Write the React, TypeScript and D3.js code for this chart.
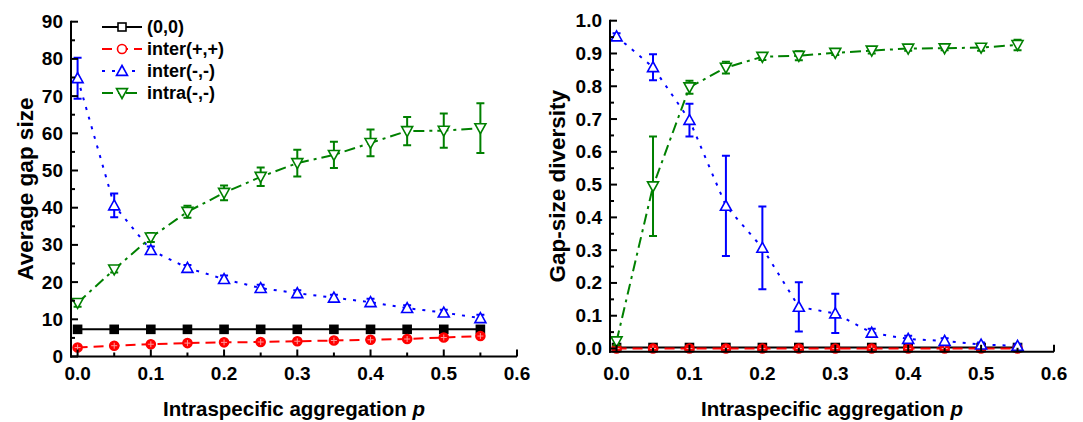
import { scaleLinear, line, range } from "d3";

const W = 1083;
const H = 422;

const pValues = [0, 0.05, 0.1, 0.15, 0.2, 0.25, 0.3, 0.35, 0.4, 0.45, 0.5, 0.55];
const seriesNames = ["(0,0)", "inter(+,+)", "inter(-,-)", "intra(-,-)"];

// left panel: average gap size
const gapNone = [7.3, 7.3, 7.3, 7.3, 7.3, 7.3, 7.3, 7.3, 7.3, 7.3, 7.3, 7.3];
const gapNoneErr = [0.1, 0.1, 0.1, 0.1, 0.1, 0.1, 0.1, 0.1, 0.1, 0.1, 0.1, 0.1];
const gapInterPos = [2.4, 2.9, 3.3, 3.6, 3.8, 3.9, 4.1, 4.3, 4.5, 4.7, 5.1, 5.5];
const gapInterPosErr = [0.3, 0.3, 0.3, 0.3, 0.3, 0.3, 0.3, 0.3, 0.3, 0.3, 0.3, 0.3];
const gapInterNeg = [74.8, 40.6, 28.6, 23.8, 20.8, 18.4, 17.0, 15.8, 14.6, 13.0, 11.8, 10.3];
const gapInterNegErr = [5.5, 3.2, 1.0, 0.8, 1.0, 0.9, 0.8, 0.8, 0.9, 0.8, 0.8, 0.9];
const gapIntraNeg = [14.4, 23.4, 32.0, 38.9, 44.0, 48.3, 52.0, 54.2, 57.4, 60.6, 60.7, 61.4];
const gapIntraNegErr = [1.0, 0.8, 1.2, 1.6, 2.0, 2.5, 3.6, 3.5, 3.6, 3.8, 4.6, 6.7];

// right panel: gap-size diversity
const divNone = [0.003, 0.003, 0.003, 0.003, 0.003, 0.003, 0.003, 0.003, 0.003, 0.003, 0.003, 0.003];
const divNoneErr = [0.002, 0.002, 0.002, 0.002, 0.002, 0.002, 0.002, 0.002, 0.002, 0.002, 0.002, 0.002];
const divInterPos = [0.0, 0.0, 0.0, 0.0, 0.0, 0.0, 0.0, 0.0, 0.0, 0.0, 0.0, 0.0];
const divInterPosErr = [0.002, 0.002, 0.002, 0.002, 0.002, 0.002, 0.002, 0.002, 0.002, 0.002, 0.002, 0.002];
const divInterNeg = [0.952, 0.858, 0.697, 0.435, 0.307, 0.127, 0.107, 0.048, 0.029, 0.023, 0.012, 0.008];
const divInterNegErr = [0.01, 0.04, 0.05, 0.153, 0.126, 0.075, 0.06, 0.012, 0.01, 0.008, 0.006, 0.005];
const divIntraNeg = [0.022, 0.495, 0.797, 0.857, 0.89, 0.893, 0.902, 0.909, 0.915, 0.916, 0.918, 0.926];
const divIntraNegErr = [0.012, 0.152, 0.02, 0.018, 0.01, 0.014, 0.007, 0.009, 0.007, 0.006, 0.01, 0.016];

const leftYTicks = [0, 10, 20, 30, 40, 50, 60, 70, 80, 90];
const rightYTicks = [0, 0.1, 0.2, 0.3, 0.4, 0.5, 0.6, 0.7, 0.8, 0.9, 1.0];
const xTicks = [0, 0.1, 0.2, 0.3, 0.4, 0.5, 0.6];

const COLORS = ["#000000", "#ff0000", "#0000ff", "#008000"];
const DASHES = ["none", "10,6", "3,7", "11,5,3,5"];
const SHAPES = ["square", "circle", "up", "down"];
const FONT = "'Liberation Sans', Arial, sans-serif";

function Marker({ shape, x, y, color, filled }) {
  const fill = filled ? color : "#fff";
  if (shape === "square") {
    return <rect x={x - 4} y={y - 4} width={8} height={8} fill={fill} stroke={color} strokeWidth={1.6} />;
  }
  if (shape === "circle") {
    return (
      <g>
        <circle cx={x} cy={y} r={4.5} fill={fill} stroke={color} strokeWidth={1.6} />
        {filled && (
          <path d={`M${x - 3},${y}H${x + 3}M${x},${y - 3}V${y + 3}`} stroke="#ff9a9a" strokeWidth={1} />
        )}
      </g>
    );
  }
  const s = 5.5;
  const d =
    shape === "up"
      ? `M${x},${y - s}L${x + s},${y + s * 0.8}L${x - s},${y + s * 0.8}Z`
      : `M${x},${y + s}L${x + s},${y - s * 0.8}L${x - s},${y - s * 0.8}Z`;
  return <path d={d} fill={fill} stroke={color} strokeWidth={1.6} strokeLinejoin="miter" />;
}

function Panel({ x0, x1, yTop, yZero, yMin, yMax, yTicks, yMinorStep, fmtY, series, errors, yLabel, yLabelX, filled }) {
  const xScale = scaleLinear().domain([-0.009, 0.6]).range([x0, x1]);
  const yScale = scaleLinear().domain([0, yMax]).range([yZero, yTop]);
  const axisY = yScale(yMin);
  const axisX = xScale(-0.009);
  const linePath = line<number>()
    .x((d, i) => xScale(pValues[i]))
    .y((d) => yScale(d));

  const minorY = range(0, yMax + 1e-9, yMinorStep).filter((v) => !yTicks.some((t) => Math.abs(t - v) < 1e-9));
  const minorX = range(0.05, 0.6, 0.1);

  return (
    <g fontFamily={FONT} fontWeight="bold">
      {series.map((vals, s) => (
        <path
          key={"l" + s}
          d={linePath(vals) || ""}
          fill="none"
          stroke={COLORS[s]}
          strokeWidth={2}
          strokeDasharray={DASHES[s]}
        />
      ))}
      {series.map((vals, s) => (
        <g key={"m" + s}>
          {vals.map((v, i) => {
            const cx = xScale(pValues[i]);
            const e = errors[s][i];
            const ya = yScale(v + e);
            const yb = yScale(v - e);
            return (
              <g key={i}>
                <path
                  d={`M${cx},${ya}V${yb}M${cx - 4},${ya}H${cx + 4}M${cx - 4},${yb}H${cx + 4}`}
                  stroke={COLORS[s]}
                  strokeWidth={2}
                  fill="none"
                />
                <Marker shape={SHAPES[s]} x={cx} y={yScale(v)} color={COLORS[s]} filled={filled[s]} />
              </g>
            );
          })}
        </g>
      ))}
      {/* axes */}
      <line x1={axisX} x2={axisX} y1={yTop - 1} y2={axisY + 1} stroke="#000" strokeWidth={2} />
      <line x1={axisX - 1} x2={x1} y1={axisY} y2={axisY} stroke="#000" strokeWidth={2} />
      {yTicks.map((t) => (
        <g key={"yt" + t}>
          <line x1={axisX} x2={axisX + 7} y1={yScale(t)} y2={yScale(t)} stroke="#000" strokeWidth={2} />
          <text x={axisX - 8} y={yScale(t)} textAnchor="end" dominantBaseline="central" fontSize={19}>
            {fmtY(t)}
          </text>
        </g>
      ))}
      {minorY.map((t) => (
        <line key={"ym" + t} x1={axisX} x2={axisX + 4} y1={yScale(t)} y2={yScale(t)} stroke="#000" strokeWidth={2} />
      ))}
      {xTicks.map((t) => (
        <g key={"xt" + t}>
          <line x1={xScale(t)} x2={xScale(t)} y1={axisY} y2={axisY - 7} stroke="#000" strokeWidth={2} />
          <text x={xScale(t)} y={380} textAnchor="middle" fontSize={19}>
            {t.toFixed(1)}
          </text>
        </g>
      ))}
      {minorX.map((t) => (
        <line key={"xm" + t} x1={xScale(t)} x2={xScale(t)} y1={axisY} y2={axisY - 4} stroke="#000" strokeWidth={2} />
      ))}
      <text x={(axisX + x1) / 2} y={416} textAnchor="middle" fontSize={20.5}>
        Intraspecific aggregation <tspan fontStyle="italic">p</tspan>
      </text>
      <text
        transform={`translate(${yLabelX},${(yTop + axisY) / 2}) rotate(-90)`}
        textAnchor="middle"
        dominantBaseline="central"
        fontSize={22.5}
      >
        {yLabel}
      </text>
    </g>
  );
}

function Legend() {
  const rows = [27, 49, 71, 93];
  return (
    <g fontFamily={FONT} fontWeight="bold">
      {seriesNames.map((name, i) => (
        <g key={name}>
          <line
            x1={102}
            x2={142}
            y1={rows[i]}
            y2={rows[i]}
            stroke={COLORS[i]}
            strokeWidth={2}
            strokeDasharray={DASHES[i]}
          />
          <Marker shape={SHAPES[i]} x={122} y={rows[i]} color={COLORS[i]} filled={false} />
          <text x={147} y={rows[i]} dominantBaseline="central" fontSize={18}>
            {name}
          </text>
        </g>
      ))}
    </g>
  );
}

export default function App() {
  return (
    <svg width={W} height={H} style={{ position: "absolute", left: 0, top: 0, background: "#fff" }}>
      <rect width={W} height={H} fill="#fff" />
      <Panel
        x0={71}
        x1={517}
        yTop={21.7}
        yZero={356.5}
        yMin={0}
        yMax={90}
        yTicks={leftYTicks}
        yMinorStep={5}
        fmtY={(t) => String(t)}
        series={[gapNone, gapInterPos, gapInterNeg, gapIntraNeg]}
        errors={[gapNoneErr, gapInterPosErr, gapInterNegErr, gapIntraNegErr]}
        yLabel="Average gap size"
        yLabelX={25}
        filled={[true, true, false, false]}
      />
      <Legend />
      <Panel
        x0={610}
        x1={1054}
        yTop={20.7}
        yZero={348.5}
        yMin={-0.01}
        yMax={1.0}
        yTicks={rightYTicks}
        yMinorStep={0.05}
        fmtY={(t) => t.toFixed(1)}
        series={[divNone, divInterPos, divInterNeg, divIntraNeg]}
        errors={[divNoneErr, divInterPosErr, divInterNegErr, divIntraNegErr]}
        yLabel="Gap-size diversity"
        yLabelX={557}
        filled={[true, true, false, false]}
      />
    </svg>
  );
}
